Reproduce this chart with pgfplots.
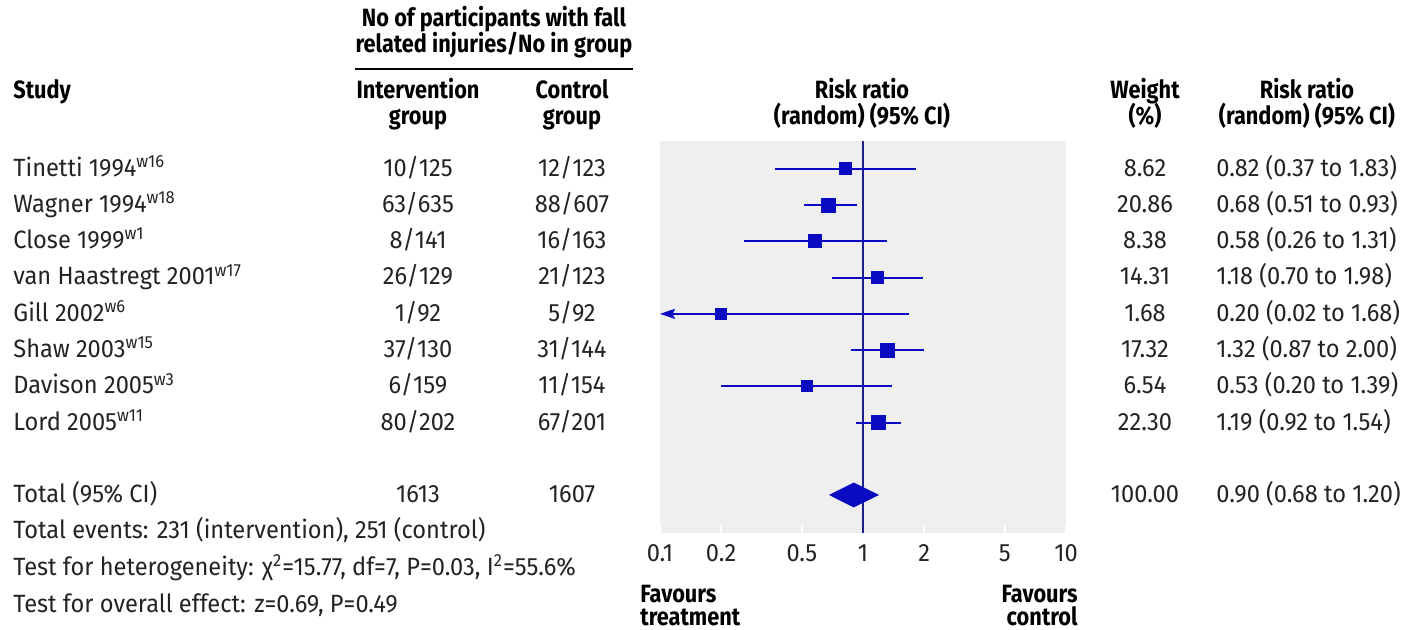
\documentclass[border=0pt]{standalone}
\usepackage{fontspec}
\setmainfont{Fira Sans}[FakeStretch=0.945, BoldFeatures={FakeStretch=0.87}]
\usepackage{pgfplots}
\pgfplotsset{compat=1.18}
\usepackage{pgfplotstable}
\usetikzlibrary{arrows.meta}
\definecolor{fblue}{RGB}{10,10,195}
\definecolor{fline}{RGB}{30,30,140}
\definecolor{bggray}{RGB}{239,239,239}
\definecolor{txt}{RGB}{35,35,35}

% row, risk ratio, half side of square (pt)
\pgfplotstableread{
row rr ms
1 0.82 3.0
2 0.68 3.5
3 0.58 3.25
4 1.18 3.0
5 0.20 2.75
6 1.32 3.5
7 0.53 2.75
8 1.19 3.5
}\studies

\newcommand\bodyfont{\fontsize{12.5}{15}\selectfont}
\begin{document}
\begin{tikzpicture}[x=0.5pt,y=-0.5pt,
  tx/.style={inner sep=0pt, font=\bodyfont, text=txt},
  hd/.style={inner sep=0pt, font=\bodyfont\bfseries, text=black}]
\useasboundingbox (0,0) rectangle (1405,629);
\coordinate (A) at (660,141);
\begin{axis}[at={(A)}, anchor=north west, scale only axis,
  width=203pt, height=196pt,
  xmode=log, xmin=0.1, xmax=10, ymin=0.229, ymax=11.05, y dir=reverse,
  axis background/.style={fill=bggray},
  axis line style={draw=none},
  xtick={0.1,0.2,0.5,1,2,5,10},
  xticklabels={0.1,0.2,0.5,1,2,5,10},
  minor xtick={}, ytick=\empty,
  xtick pos=bottom, tick align=inside,
  major tick length=4pt,
  tick style={white, line width=1.2pt},
  xticklabel style={font=\bodyfont, text=txt, inner sep=0pt, yshift=-5.5pt},
  /pgf/number format/assume math mode=true,
  clip=false]
\addplot[fline, line width=0.75pt] coordinates {(1,0.229) (1,11.05)};
\addplot[fblue, line width=1pt] coordinates {(0.37,1) (1.83,1)};
\addplot[fblue, line width=1pt] coordinates {(0.51,2) (0.93,2)};
\addplot[fblue, line width=1pt] coordinates {(0.26,3) (1.31,3)};
\addplot[fblue, line width=1pt] coordinates {(0.70,4) (1.98,4)};
\addplot[fblue, line width=1pt, -{Stealth[length=7.5pt,width=5pt,inset=1.2pt]}] coordinates {(1.68,5) (0.1,5)};
\addplot[fblue, line width=1pt] coordinates {(0.87,6) (2.00,6)};
\addplot[fblue, line width=1pt] coordinates {(0.20,7) (1.39,7)};
\addplot[fblue, line width=1pt] coordinates {(0.92,8) (1.54,8)};
\addplot[scatter, only marks, mark=square*,
  scatter/use mapped color={draw=fblue, fill=fblue},
  mark options={line width=0pt},
  visualization depends on={\thisrow{ms} \as \msz},
  scatter/@pre marker code/.append style={/tikz/mark size=\msz pt}]
  table[x=rr, y=row] {\studies};
\addplot[fill=fblue, draw=none] coordinates {(0.68,10) (0.90,9.656) (1.20,10) (0.90,10.344) (0.68,10)};
\end{axis}

% top header
\node[hd, anchor=base] at (494,26) {No of participants with fall};
\node[hd, anchor=base] at (494,52) {related injuries/No in group};
\draw[line width=1pt] (355,69) -- (633,69);
\node[hd, anchor=base west] at (13,98) {Study};
\node[hd, anchor=base] at (418,98) {Intervention};
\node[hd, anchor=base] at (418,124) {group};
\node[hd, anchor=base] at (572,98) {Control};
\node[hd, anchor=base] at (572,124) {group};
\node[hd, anchor=base] at (862,98) {Risk ratio};
\node[hd, anchor=base] at (862,124) {(random) (95\% CI)};
\node[hd, anchor=base] at (1145,98) {Weight};
\node[hd, anchor=base] at (1145,124) {(\%)};
\node[hd, anchor=base] at (1307,98) {Risk ratio};
\node[hd, anchor=base] at (1307,124) {(random) (95\% CI)};

% study rows
\foreach \y/\s/\a/\b/\w/\r in {
  176/Tinetti 1994\textsuperscript{w16}/10\slash 125/12\slash 123/8.62/0.82 (0.37 to 1.83),
  212.3/Wagner 1994\textsuperscript{w18}/63\slash 635/88\slash 607/20.86/0.68 (0.51 to 0.93),
  248.6/Close 1999\textsuperscript{w1}/8\slash 141/16\slash 163/8.38/0.58 (0.26 to 1.31),
  284.9/van Haastregt 2001\textsuperscript{w17}/26\slash 129/21\slash 123/14.31/1.18 (0.70 to 1.98),
  321.2/Gill 2002\textsuperscript{w6}/1\slash 92/5\slash 92/1.68/0.20 (0.02 to 1.68),
  357.5/Shaw 2003\textsuperscript{w15}/37\slash 130/31\slash 144/17.32/1.32 (0.87 to 2.00),
  393.8/Davison 2005\textsuperscript{w3}/6\slash 159/11\slash 154/6.54/0.53 (0.20 to 1.39),
  430.1/Lord 2005\textsuperscript{w11}/80\slash 202/67\slash 201/22.30/1.19 (0.92 to 1.54),
  502.7/Total (95\% CI)/1613/1607/100.00/0.90 (0.68 to 1.20)}{
  \node[tx, anchor=base west] at (13,\y) {\s};
  \node[tx, anchor=base] at (418,\y) {\a};
  \node[tx, anchor=base] at (572,\y) {\b};
  \node[tx, anchor=base] at (1145,\y) {\w};
  \node[tx, anchor=base west] at (1216,\y) {\r};
}
\node[tx, anchor=base west] at (13,538) {Total events: 231 (intervention), 251 (control)};
\node[tx, anchor=base west] at (13,575) {Test for heterogeneity: χ\textsuperscript{2}=15.77, df=7, P=0.03, I\textsuperscript{2}=55.6\%};
\node[tx, anchor=base west] at (13,612) {Test for overall effect: z=0.69, P=0.49};

\node[hd, anchor=base west] at (640,602) {Favours};
\node[hd, anchor=base west] at (640,625) {treatment};
\node[hd, anchor=base east] at (1078,602) {Favours};
\node[hd, anchor=base east] at (1078,625) {control};
\end{tikzpicture}
\end{document}
